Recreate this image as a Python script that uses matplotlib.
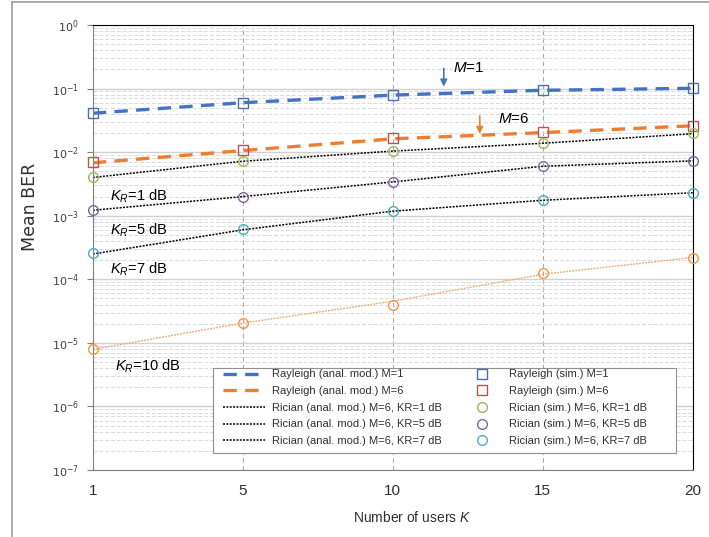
#!/usr/bin/env python3
"""Mean BER versus number of users K: Rayleigh and Rician, analytic vs simulated."""

import matplotlib
matplotlib.use("Agg")
import matplotlib.pyplot as plt
import numpy as np
from matplotlib.lines import Line2D
from matplotlib.patches import Rectangle
from matplotlib.ticker import LogLocator, NullFormatter

NARROW = ["Liberation Sans", "DejaVu Sans"]
plt.rcParams["mathtext.fontset"] = "custom"
plt.rcParams["mathtext.rm"] = "Liberation Sans"
plt.rcParams["mathtext.it"] = "Liberation Sans:italic"

users_k = [1, 5, 10, 15, 20]

# analytical model curves
ray_m1 = [0.041, 0.060, 0.079, 0.094, 0.101]
ray_m6 = [0.0068, 0.0106, 0.0162, 0.0203, 0.026]
ric_kr1 = [0.0040, 0.0072, 0.0104, 0.0138, 0.0195]
ric_kr5 = [0.00122, 0.0020, 0.0034, 0.0060, 0.0073]
ric_kr7 = [0.00025, 0.00060, 0.00118, 0.00175, 0.0023]
ric_kr10 = [7.9e-6, 2.05e-5, 4.5e-5, 1.2e-4, 2.2e-4]

# simulated points
ray_m1_sim = [0.041, 0.060, 0.079, 0.095, 0.101]
ray_m6_sim = [0.0069, 0.0108, 0.0165, 0.0205, 0.026]
ric_kr1_sim = [0.0040, 0.0073, 0.0104, 0.0138, 0.0198]
ric_kr5_sim = [0.00123, 0.0020, 0.0034, 0.0061, 0.0073]
ric_kr7_sim = [0.000256, 0.00061, 0.0012, 0.00177, 0.0023]
ric_kr10_sim = [7.9e-6, 2.03e-5, 3.98e-5, 1.27e-4, 2.19e-4]

BLUE = "#4472C4"
ORANGE = "#ED7D31"


def main():
    fig = plt.figure(figsize=(7.09, 5.37), dpi=100)
    ax = fig.add_axes([0.131, 0.1248, 0.846, 0.8286])
    x = np.arange(len(users_k))

    ax.plot(x, ray_m1, ls=(0, (4, 2.5)), color=BLUE, lw=2.4,
            label="Rayleigh (anal. mod.) M=1")
    ax.plot(x, ray_m6, ls=(0, (4, 2.5)), color=ORANGE, lw=2.4,
            label="Rayleigh (anal. mod.) M=6")
    for vals, kr in [(ric_kr1, 1), (ric_kr5, 5), (ric_kr7, 7)]:
        ax.plot(x, vals, ls=(0, (1.3, 0.9)), color="black", lw=1.1,
                label=f"Rician (anal. mod.) M=6, KR={kr} dB")
    ax.plot(x, ric_kr10, ls=(0, (1.3, 0.9)), color="#F4A46A", lw=1.0)

    sims = [
        (ray_m1_sim, "s", "#4F6FA8", "Rayleigh (sim.) M=1"),
        (ray_m6_sim, "s", "#C0504D", "Rayleigh (sim.) M=6"),
        (ric_kr1_sim, "o", "#9BBB59", "Rician (sim.) M=6, KR=1 dB"),
        (ric_kr5_sim, "o", "#8064A2", "Rician (sim.) M=6, KR=5 dB"),
        (ric_kr7_sim, "o", "#4BACC6", "Rician (sim.) M=6, KR=7 dB"),
    ]
    for vals, mk, col, lab in sims:
        ax.plot(x, vals, ls="none", marker=mk, ms=7, mfc="none", mec=col,
                mew=1.0, label=lab, clip_on=False, zorder=5)
    ax.plot(x, ric_kr10_sim, ls="none", marker="o", ms=7, mfc="none",
            mec="#F79646", mew=1.0, clip_on=False, zorder=5)

    ax.set_yscale("log")
    ax.set_ylim(1e-7, 1)
    ax.set_xlim(0, len(users_k) - 1)
    ax.set_xticks(x)
    ax.set_xticklabels([str(k) for k in users_k], family=NARROW, fontsize=11)
    ax.yaxis.set_major_locator(LogLocator(base=10, numticks=10))
    ax.yaxis.set_minor_locator(LogLocator(base=10, subs=np.arange(2, 10), numticks=100))
    ax.yaxis.set_minor_formatter(NullFormatter())
    ax.tick_params(axis="y", which="major", labelsize=8, length=4, color="#808080",
                   colors="#404040", pad=6)
    ax.tick_params(axis="y", which="minor", length=0)
    ax.tick_params(axis="x", length=0, pad=10, colors="#303030")

    ax.grid(True, which="major", axis="y", color="#D0D0D0", lw=1.0, ls="-")
    ax.grid(True, which="minor", axis="y", color="#DADADA", lw=0.7, ls=(0, (4, 2)))
    ax.grid(True, which="major", axis="x", color="#A8A8A8", lw=0.8, ls=(0, (4, 3)))
    ax.set_axisbelow(True)

    ax.spines["left"].set_color("#808080")
    ax.spines["bottom"].set_color("#808080")
    ax.spines["top"].set_color("black")
    ax.spines["right"].set_color("black")

    ax.set_xlabel(r"Number of users $\it{K}$", family=NARROW, fontsize=10,
                  color="#303030")
    ax.xaxis.set_label_coords(0.533, -0.09)
    ax.set_ylabel("Mean BER", fontsize=12.5, color="#303030")
    ax.yaxis.set_label_coords(-0.09, 0.591)

    # annotations
    ax.annotate("", xy=(2.34, 0.097), xytext=(2.34, 0.23),
                arrowprops=dict(arrowstyle="-|>", color=BLUE, lw=1.2,
                                mutation_scale=10))
    ax.text(2.4, 0.21, r"$\it{M}$=1", fontsize=11, va="center", family=NARROW)
    ax.annotate("", xy=(2.58, 0.0175), xytext=(2.58, 0.041),
                arrowprops=dict(arrowstyle="-|>", color=ORANGE, lw=1.2,
                                mutation_scale=10))
    ax.text(2.7, 0.033, r"$\it{M}$=6", fontsize=11, va="center", family=NARROW)

    for label, yv in [("1", 2.0e-3), ("5", 5.8e-4), ("7", 1.45e-4), ("10", 4.3e-6)]:
        xv = 0.115 if label != "10" else 0.15
        ax.text(xv, yv, r"$\it{K_R}$=" + label + " dB", fontsize=10.5, va="center",
                family=NARROW)

    # legend: frame drawn separately so the blank space sits on the right
    ax.add_patch(Rectangle((0.2, 0.038), 0.773, 0.191, transform=ax.transAxes,
                           facecolor="white", edgecolor="#909090", lw=0.8,
                           zorder=6))
    leg = ax.legend(loc="upper left", bbox_to_anchor=(0.2167, 0.226), ncol=2,
                    prop={"family": NARROW, "size": 8}, frameon=False,
                    handlelength=3.8, handletextpad=0.6, labelspacing=0.6,
                    borderpad=0, columnspacing=1.7, borderaxespad=0)
    leg.set_zorder(7)
    for t in leg.get_texts():
        t.set_color("#303030")

    # picture border
    fig.add_artist(Line2D([12 / 709, 12 / 709], [0, 1 - 2 / 537],
                          transform=fig.transFigure, color="#A0A0A0", lw=1.2))
    fig.add_artist(Line2D([12 / 709, 1], [1 - 2 / 537, 1 - 2 / 537],
                          transform=fig.transFigure, color="#A0A0A0", lw=1.2))

    fig.savefig("out.png", dpi=100)


if __name__ == "__main__":
    main()
